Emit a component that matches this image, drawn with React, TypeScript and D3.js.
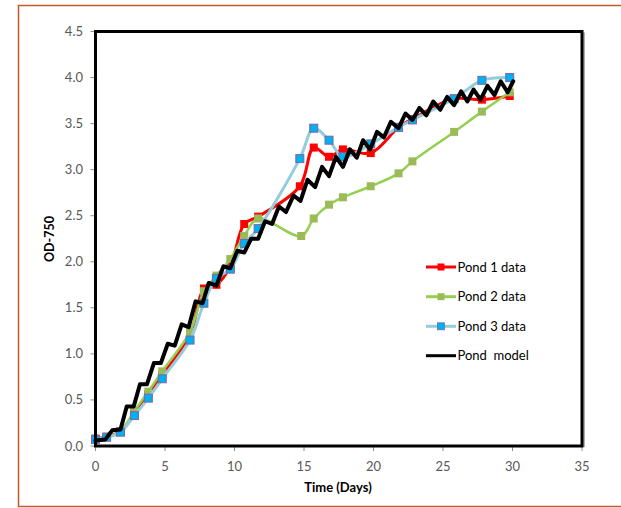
import React from "react";
import * as d3 from "d3";

const pond1Days = [0, 0.8, 1.8, 2.8, 3.8, 4.8, 6.8, 7.8, 8.7, 9.7, 10.7, 11.7, 14.7, 15.7, 16.8, 17.8, 19.8, 21.8, 22.8, 25.8, 27.8, 29.8];
const pond1Values = [0.08, 0.1, 0.16, 0.36, 0.56, 0.77, 1.2, 1.71, 1.75, 1.95, 2.41, 2.49, 2.82, 3.24, 3.14, 3.22, 3.18, 3.46, 3.55, 3.77, 3.76, 3.8];

const pond2Days = [0, 0.8, 1.8, 2.8, 3.8, 4.8, 6.8, 7.8, 8.7, 9.7, 10.7, 11.7, 14.8, 15.7, 16.8, 17.8, 19.8, 21.8, 22.8, 25.8, 27.8, 29.8];
const pond2Values = [0.08, 0.1, 0.16, 0.38, 0.59, 0.81, 1.24, 1.68, 1.85, 2.03, 2.28, 2.47, 2.28, 2.47, 2.62, 2.7, 2.82, 2.96, 3.09, 3.41, 3.63, 3.84];

const pond3Days = [0, 0.8, 1.8, 2.8, 3.8, 4.8, 6.8, 7.8, 8.7, 9.7, 10.7, 11.7, 14.7, 15.7, 16.8, 17.8, 19.8, 21.8, 22.8, 25.8, 27.8, 29.8];
const pond3Values = [0.07, 0.095, 0.15, 0.33, 0.52, 0.73, 1.15, 1.55, 1.82, 1.92, 2.2, 2.36, 3.12, 3.45, 3.32, 3.14, 3.28, 3.46, 3.54, 3.77, 3.97, 4.0];

const modelDays = [0, 0.7, 1.2, 1.8, 2.25, 2.75, 3.2, 3.7, 4.2, 4.7, 5.2, 5.7, 6.2, 6.7, 7.2, 7.7, 8.15, 8.7, 9.2, 9.7, 10.2, 10.7, 11.2, 11.7, 12.2, 12.7, 13.2, 13.7, 14.25, 14.75, 15.25, 15.8, 16.3, 16.8, 17.3, 17.8, 18.3, 18.8, 19.25, 19.75, 20.25, 20.75, 21.25, 21.8, 22.3, 22.8, 23.3, 23.8, 24.3, 24.8, 25.3, 25.8, 26.3, 26.75, 27.2, 27.7, 28.2, 28.7, 29.15, 29.65, 30.05];
const modelValues = [0.06, 0.07, 0.17, 0.18, 0.43, 0.43, 0.67, 0.67, 0.9, 0.9, 1.11, 1.09, 1.32, 1.29, 1.57, 1.55, 1.77, 1.74, 1.95, 1.93, 2.12, 2.1, 2.25, 2.25, 2.44, 2.41, 2.6, 2.54, 2.72, 2.66, 2.89, 2.81, 3.03, 2.93, 3.14, 3.03, 3.22, 3.13, 3.32, 3.22, 3.41, 3.35, 3.52, 3.45, 3.61, 3.54, 3.67, 3.59, 3.74, 3.65, 3.79, 3.7, 3.85, 3.74, 3.87, 3.76, 3.91, 3.81, 3.96, 3.84, 3.96];

const xTicks = [0, 5, 10, 15, 20, 25, 30, 35];
const yTicks = [0, 0.5, 1, 1.5, 2, 2.5, 3, 3.5, 4, 4.5];

const legendLabels = ["Pond 1 data", "Pond 2 data", "Pond 3 data", "Pond  model"];

const W = 621;
const H = 508;
const left = 95.5;
const right = 582;
const top = 31.5;
const bottom = 446;

export default function App() {
  const x = d3.scaleLinear().domain([0, 35]).range([left, right]);
  const y = d3.scaleLinear().domain([0, 4.5]).range([bottom, top]);

  const zip = (ds: number[], vs: number[]) => ds.map((d, i) => [d, vs[i]] as [number, number]);
  const smooth = d3
    .line<[number, number]>()
    .x((d) => x(d[0]))
    .y((d) => y(d[1]))
    .curve(d3.curveCatmullRom.alpha(0.5));
  const straight = d3
    .line<[number, number]>()
    .x((d) => x(d[0]))
    .y((d) => y(d[1]));

  const p1 = zip(pond1Days, pond1Values);
  const p2 = zip(pond2Days, pond2Values);
  const p3 = zip(pond3Days, pond3Values);
  const pm = zip(modelDays, modelValues);

  const font = "Lato, 'Open Sans', sans-serif";
  const tickColor = "#595959";

  const legendStyles = [
    { stroke: "#FF0000", w: 3, fill: "#FF0000", mstroke: "none", ms: 8 },
    { stroke: "#92D050", w: 3, fill: "#9BBB59", mstroke: "none", ms: 8 },
    { stroke: "#93CDDD", w: 3, fill: "#00B0F0", mstroke: "#8064A2", ms: 8 },
    { stroke: "#000000", w: 3, fill: "none", mstroke: "none", ms: 0 },
  ];
  const legendY = [267, 296.7, 326.3, 355.7];

  return (
    <svg
      width={W}
      height={H}
      style={{ position: "absolute", left: 0, top: 0, background: "#fff" }}
      fontFamily={font}
    >
      {/* outer frame */}
      <rect x={18.5} y={5.5} width={W} height={501} fill="none" stroke="#C8562A" strokeWidth={1.5} />

      {/* y ticks */}
      {yTicks.map((t) => (
        <g key={"y" + t}>
          <line x1={left - 5} x2={left} y1={y(t)} y2={y(t)} stroke="#8c8c8c" strokeWidth={1} />
          <text x={83} y={y(t)} dy="0.35em" textAnchor="end" fontSize={13} fill={tickColor}>
            {d3.format(".1f")(t)}
          </text>
        </g>
      ))}
      {/* x ticks */}
      {xTicks.map((t) => (
        <g key={"x" + t}>
          <line x1={x(t)} x2={x(t)} y1={bottom} y2={bottom + 5} stroke="#8c8c8c" strokeWidth={1} />
          <text x={x(t)} y={466} dy="0.35em" textAnchor="middle" fontSize={13} fill={tickColor}>
            {t}
          </text>
        </g>
      ))}

      {/* axis titles */}
      <text
        transform={`translate(50,239) rotate(-90)`}
        textAnchor="middle"
        dy="0.35em"
        fontSize={12.5}
        fontWeight="bold"
        fill="#000"
      >
        OD-750
      </text>
      <text x={338} y={487} dy="0.35em" textAnchor="middle" fontSize={13} fontWeight="bold" fill="#000">
        Time (Days)
      </text>

      {/* series */}
      <path d={smooth(p1) || ""} fill="none" stroke="#FF0000" strokeWidth={3} />
      {p1.map((d, i) => (
        <rect key={"m1" + i} x={x(d[0]) - 4} y={y(d[1]) - 4} width={8} height={8} fill="#FF0000" />
      ))}
      <path d={smooth(p2) || ""} fill="none" stroke="#92D050" strokeWidth={2.5} />
      {p2.map((d, i) => (
        <rect key={"m2" + i} x={x(d[0]) - 4} y={y(d[1]) - 4} width={8} height={8} fill="#9BBB59" />
      ))}
      <path d={smooth(p3) || ""} fill="none" stroke="#93CDDD" strokeWidth={3} />
      {p3.map((d, i) => (
        <rect
          key={"m3" + i}
          x={x(d[0]) - 4}
          y={y(d[1]) - 4}
          width={8}
          height={8}
          fill="#00B0F0"
          stroke="#8064A2"
          strokeWidth={1}
        />
      ))}
      <path
        d={straight(pm) || ""}
        fill="none"
        stroke="#000"
        strokeWidth={4}
        strokeLinejoin="round"
        strokeLinecap="round"
      />

      {/* plot frame */}
      <line x1={right + 2} x2={right + 2} y1={top + 1} y2={bottom + 1} stroke="#b0b0b0" strokeWidth={2} />
      <rect x={left} y={top} width={right - left} height={bottom - top} fill="none" stroke="#000" strokeWidth={3} />

      {/* legend */}
      {legendLabels.map((lab, i) => {
        const s = legendStyles[i];
        const ly = legendY[i];
        return (
          <g key={"lg" + i}>
            <line x1={426} x2={456} y1={ly} y2={ly} stroke={s.stroke} strokeWidth={s.w} />
            {s.ms > 0 && (
              <rect x={441 - 3.5} y={ly - 3.5} width={7} height={7} fill={s.fill} stroke={s.mstroke} strokeWidth={0.8} />
            )}
            <text x={457.5} y={ly} dy="0.35em" fontSize={13} fill="#000" style={{ whiteSpace: "pre" }}>
              {lab}
            </text>
          </g>
        );
      })}
    </svg>
  );
}
